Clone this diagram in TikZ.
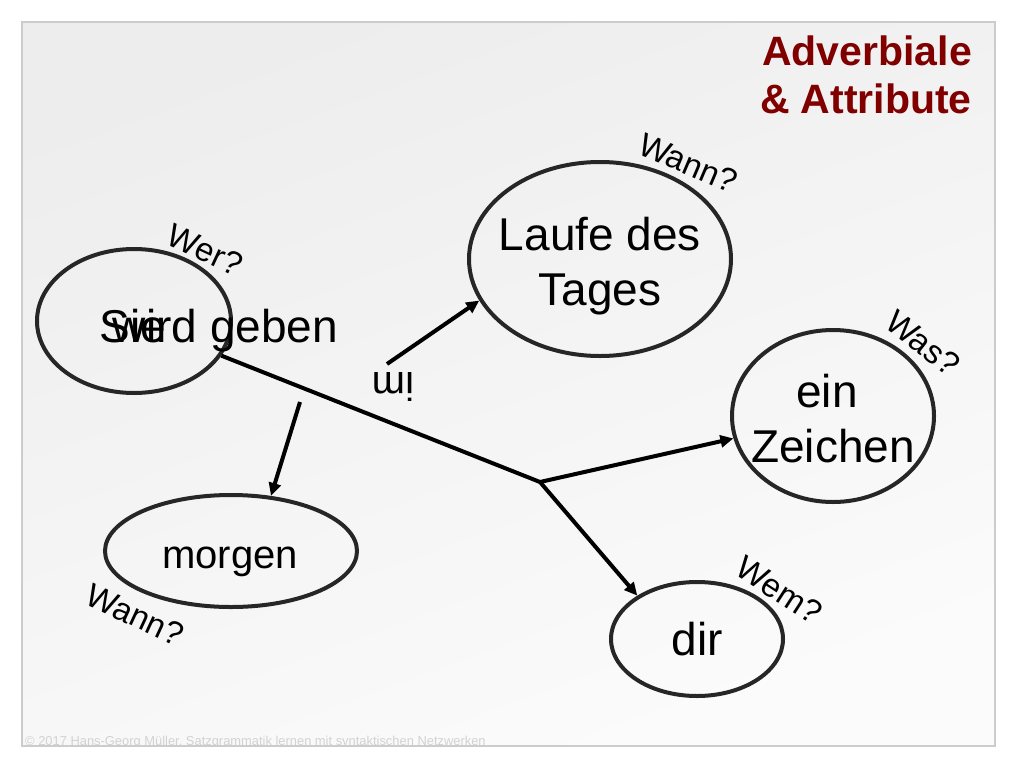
\documentclass[tikz,border=0pt]{standalone}
\usepackage{fontspec}
\setmainfont{Liberation Sans}
\usetikzlibrary{shapes.geometric,arrows.meta}
\definecolor{titlered}{RGB}{128,0,0}
\definecolor{ink}{RGB}{38,38,38}
\definecolor{framegray}{RGB}{204,204,204}
\definecolor{copygray}{RGB}{210,210,210}
\begin{document}
\begin{tikzpicture}[x=1pt,y=1pt,
  oval/.style={draw=ink, line width=4pt, ellipse, inner sep=0pt},
  word/.style={inner sep=0pt, anchor=base, font=\fontsize{46}{54}\selectfont},
  smallword/.style={inner sep=0pt, anchor=base, font=\fontsize{40}{48}\selectfont},
  qlabel/.style={inner sep=0pt, font=\fontsize{33}{38}\selectfont},
  titletext/.style={inner sep=0pt, anchor=base east, text=titlered, font=\fontsize{41}{48}\selectfont\bfseries},
  link/.style={line width=4pt, black},
  arr/.style={link, -{Triangle[length=13pt,width=12pt]}},
]
\useasboundingbox (0,0) rectangle (1024,-768);
\fill[white] (0,0) rectangle (1024,-768);
\shade[top color=black!7, bottom color=black!1.5, shading angle=20] (22,-22) rectangle (995,-746);

% copyright line, clipped by the slide frame
\begin{scope}
\clip (22,-22) rectangle (995,-745.5);
\node[anchor=base west, inner sep=0pt, text=copygray, font=\fontsize{12.9}{14}\selectfont] (copy) at (25,-745) {© 2017 Hans-Georg Müller, Satzgrammatik lernen mit syntaktischen Netzwerken};
\end{scope}
\draw[framegray, line width=1.5pt] (22,-22) rectangle (995,-746);

% title
\node[titletext] (title1) at (972,-65) {Adverbiale};
\node[titletext] (title2) at (972,-113) {\& Attribute};

% ellipses
\node[oval, minimum width=194pt, minimum height=144pt] (sie) at (134,-321) {};
\node[oval, minimum width=262pt, minimum height=194pt] (laufe) at (600,-259) {};
\node[oval, minimum width=202pt, minimum height=172pt] (zeichen) at (833,-416) {};
\node[oval, minimum width=172pt, minimum height=114pt] (dir) at (697,-639) {};
\node[oval, minimum width=252pt, minimum height=112pt] (morgen) at (231,-551) {};

% texts
\node[word] (tsie) at (133,-342) {Sie};
\node[word] (tverb) at (225.5,-342) {wird geben};
\node[word] (tlaufe1) at (600,-250) {Laufe des};
\node[word] (tlaufe2) at (600,-305) {Tages};
\node[word] (tein) at (827,-407) {ein};
\node[word] (tzeichen) at (833,-462) {Zeichen};
\node[word] (tdir) at (697.5,-655) {dir};
\node[smallword] (tmorgen) at (230,-568) {morgen};

% question labels
\node[qlabel, rotate=-25] (qwer) at (205,-250) {Wer?};
\node[qlabel, rotate=-23] (qwann1) at (688,-163) {Wann?};
\node[qlabel, rotate=-38] (qwas) at (923,-343) {Was?};
\node[qlabel, rotate=-33] (qwem) at (779,-590) {Wem?};
\node[qlabel, rotate=-25] (qwann2) at (135,-615) {Wann?};
\node[inner sep=0pt, rotate=180, font=\fontsize{40}{48}\selectfont] (tim) at (393,-387) {im};

% connectors
\coordinate (j) at (540,-482);
\coordinate (imstart) at (387,-364);
\coordinate (mstart) at (300,-402);
\draw[link] (sie) -- (j);
\draw[arr] (j) -- (zeichen);
\draw[arr] (j) -- (dir.144);
\draw[arr] (imstart) -- (laufe.199);
\draw[arr] (mstart) -- (morgen.54);
\end{tikzpicture}
\end{document}
